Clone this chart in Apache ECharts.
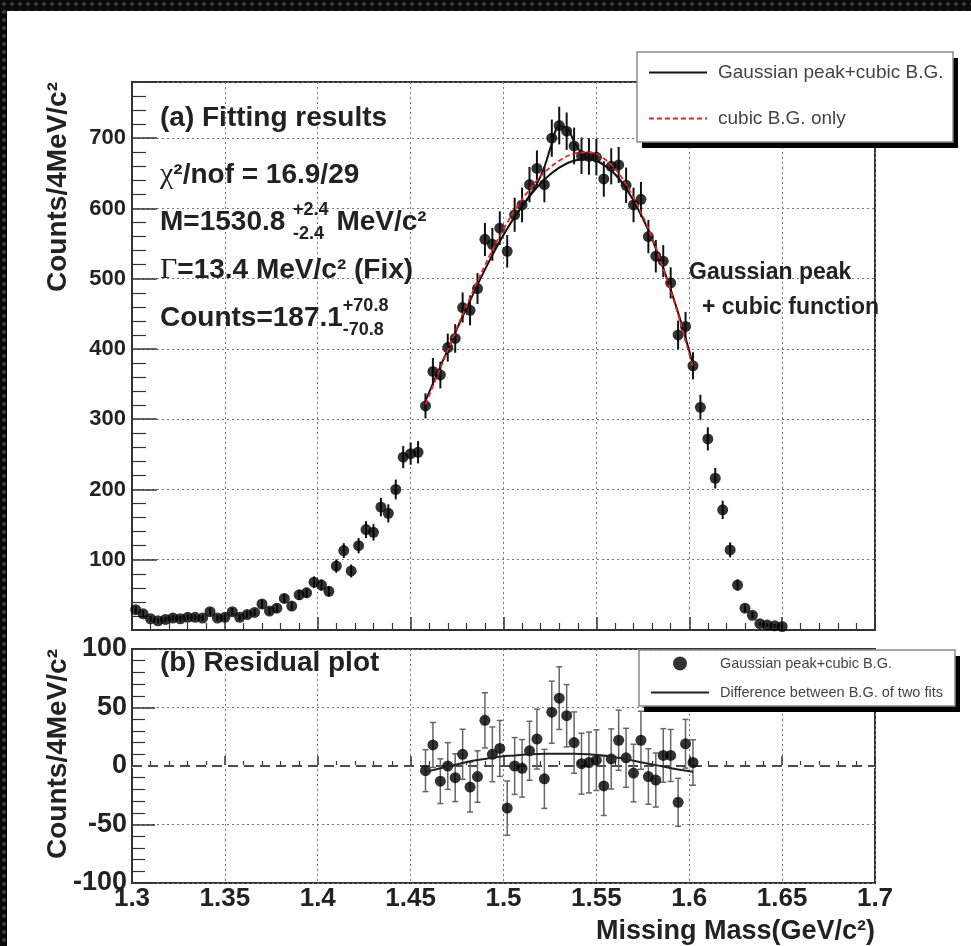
<!DOCTYPE html>
<html>
<head>
<meta charset="utf-8">
<script src="https://cdn.jsdelivr.net/npm/echarts@6/dist/echarts.min.js"></script>
<style>
  html, body { margin: 0; padding: 0; width: 971px; height: 946px; overflow: hidden; }
  body {
    background-color: #0b0b0b;
    background-image: radial-gradient(circle, #3c3c3c 0 1.6px, transparent 2.2px);
    background-size: 8px 8px;
  }
  #paper { position: absolute; left: 7px; top: 11px; right: 0; bottom: 0; background: #fff; }
  #chart { position: absolute; left: 0; top: 0; width: 971px; height: 946px; }
</style>
</head>
<body>
<div id="paper"></div>
<div id="chart"></div>
<script>
// histogram, 4 MeV bins starting at 1.302 GeV
const binStart = 1.302
const binWidth = 0.004
const counts = [
  29, 23, 16, 13, 15, 17, 16, 18, 18, 17,
  26, 17, 18, 26, 18, 22, 25, 37, 27, 31,
  45, 34, 50, 53, 68, 64, 55, 91, 113, 84,
  120, 143, 139, 175, 166, 200, 246, 251, 253, 319,
  368, 363, 402, 415, 459, 455, 486, 556, 549, 572,
  539, 591, 605, 634, 657, 634, 700, 718, 710, 689,
  675, 674, 673, 642, 660, 662, 633, 605, 613, 560,
  532, 525, 494, 420, 432, 376, 317, 272, 216, 171,
  114, 64, 31, 21, 9, 7, 6, 5
]
const countErr = [
  5.4, 4.8, 4, 3.6, 3.9, 4.1, 4, 4.2, 4.2, 4.1,
  5.1, 4.1, 4.2, 5.1, 4.2, 4.7, 5, 6.1, 5.2, 5.6,
  6.7, 5.8, 7.1, 7.3, 8.2, 8, 7.4, 9.5, 10.6, 9.2,
  11, 12, 11.8, 13.2, 12.9, 14.1, 15.7, 15.8, 15.9, 17.9,
  19.2, 19.1, 20, 20.4, 21.4, 21.3, 22, 23.6, 23.4, 23.9,
  23.2, 24.3, 24.6, 25.2, 25.6, 25.2, 26.5, 26.8, 26.6, 26.2,
  26, 26, 25.9, 25.3, 25.7, 25.7, 25.2, 24.6, 24.8, 23.7,
  23.1, 22.9, 22.2, 20.5, 20.8, 19.4, 17.8, 16.5, 14.7, 13.1,
  10.7, 8, 5.6, 4.6, 3, 2.6, 2.4, 2.2
]
// fit range: bins 39..75
const fitFirstBin = 39
const residuals = [
  -4, 18, -13, 0, -10, 10, -18, -9, 39, 10,
  15, -36, 0, -2, 13, 23, -11, 46, 58, 43,
  20, 2, 3, 5, -17, 6, 22, 7, -6, 22,
  -9, -12, 9, 9, -31, 19, 3
]
// fitted curves
const fitMass = [1.458, 1.466, 1.474, 1.482, 1.490, 1.498, 1.506, 1.514, 1.522, 1.530,
  1.538, 1.546, 1.554, 1.562, 1.570, 1.578, 1.586, 1.594, 1.602]
const bgOfFullFit = [326, 375, 423, 469, 513, 553, 588, 617, 641, 658,
  668, 670, 662, 643, 611, 569, 515, 452, 378]
const bgOnlyFit = [321, 373, 424, 473, 519, 561, 597, 627, 651, 668,
  678, 680, 671, 650, 615, 571, 514, 449, 373]
const bgDiff = [-5, -2, 1, 4, 6, 8, 9, 10, 10.5, 10.5,
  10.5, 10, 9, 7, 4.5, 2, -0.5, -3, -5]
const peakMass = [1.506, 1.510, 1.514, 1.518, 1.522, 1.526, 1.530, 1.534, 1.538, 1.542, 1.546, 1.550, 1.554]
const peakFit = [588, 603, 618, 635, 659, 692, 717, 715, 695, 679, 672, 668, 662]

const mass = counts.map((c, i) => +(binStart + i * binWidth).toFixed(3))
const resMass = mass.slice(fitFirstBin, fitFirstBin + residuals.length)

const SANS = '"Liberation Sans", Arial, sans-serif'
const SERIF = '"Liberation Serif", serif'

function errorBars(color, width, cap) {
  return function (params, api) {
    const lo = api.coord([api.value(0), api.value(1)])
    const hi = api.coord([api.value(0), api.value(2)])
    const style = { stroke: color, lineWidth: width }
    const children = [{ type: "line", shape: { x1: lo[0], y1: lo[1], x2: hi[0], y2: hi[1] }, style: style }]
    if (cap) {
      children.push({ type: "line", shape: { x1: lo[0] - cap, y1: lo[1], x2: lo[0] + cap, y2: lo[1] }, style: style })
      children.push({ type: "line", shape: { x1: hi[0] - cap, y1: hi[1], x2: hi[0] + cap, y2: hi[1] }, style: style })
    }
    return { type: "group", children: children }
  }
}

// text lines with stacked super/subscripts
const ctx = document.createElement("canvas").getContext("2d")
function textW(str, font) {
  ctx.font = font
  return ctx.measureText(str).width
}
function textLine(x, y, parts) {
  const els = []
  let cx = x
  parts.forEach(p => {
    const font = (p.weight || "bold") + " " + (p.size || 28) + "px " + (p.family || SANS)
    if (p.sup !== undefined) {
      els.push({ type: "text", z: 6, x: cx, y: y - 12, style: { text: p.sup, font: font, fill: "#222", verticalAlign: "middle" } })
      els.push({ type: "text", z: 6, x: cx, y: y + 12, style: { text: p.sub, font: font, fill: "#222", verticalAlign: "middle" } })
      cx += Math.max(textW(p.sup, font), textW(p.sub, font))
    } else {
      els.push({ type: "text", z: 6, x: cx, y: y, style: { text: p.t, font: font, fill: "#222", verticalAlign: "middle" } })
      cx += textW(p.t, font)
    }
  })
  return els
}

// legend frame with hard black drop shadow (ROOT style)
function legendBox(x, y, w, h) {
  return [
    { type: "rect", z: 6, shape: { x: x + 5, y: y + 6, width: w, height: h }, style: { fill: "#000" } },
    { type: "rect", z: 6, shape: { x: x, y: y, width: w, height: h }, style: { fill: "#fff", stroke: "#8a8a8a", lineWidth: 1.5 } }
  ]
}

const graphics = [].concat(
  legendBox(637, 52, 316, 90),
  legendBox(639, 650, 316, 56),
  textLine(160, 118, [{ t: "(a) Fitting results" }]),
  textLine(160, 175, [{ t: "χ", family: SERIF, weight: "normal", size: 30 }, { t: "²/nof = 16.9/29" }]),
  textLine(160, 222, [{ t: "M=1530.8 " }, { sup: "+2.4", sub: "-2.4", size: 18 }, { t: " MeV/c²" }]),
  textLine(160, 270, [{ t: "Γ", family: SERIF, weight: "normal", size: 30 }, { t: "=13.4 MeV/c² (Fix)" }]),
  textLine(160, 318, [{ t: "Counts=187.1" }, { sup: "+70.8", sub: "-70.8", size: 18 }]),
  textLine(689, 273, [{ t: "Gaussian peak", size: 23 }]),
  textLine(702, 308, [{ t: "+ cubic function", size: 23 }]),
  textLine(160, 663, [{ t: "(b) Residual plot" }]),
  [
    { type: "text", z: 6, x: 58, y: 82, rotation: Math.PI / 2,
      style: { text: "Counts/4MeV/c²", font: "bold 28px " + SANS, fill: "#222", align: "right", verticalAlign: "middle" } },
    { type: "text", z: 6, x: 58, y: 649, rotation: Math.PI / 2,
      style: { text: "Counts/4MeV/c²", font: "bold 28px " + SANS, fill: "#222", align: "right", verticalAlign: "middle" } },
    { type: "text", z: 6, x: 875, y: 932,
      style: { text: "Missing Mass(GeV/c²)", font: "bold 27px " + SANS, fill: "#222", align: "right", verticalAlign: "middle" } }
  ]
)

const gridLine = { show: true, lineStyle: { color: "#777", type: [2, 3], width: 1 } }
const axisLine = { show: true, lineStyle: { color: "#333", width: 2 } }

let option = {
  animation: false,
  backgroundColor: "transparent",
  textStyle: { fontFamily: SANS },
  grid: [
    { left: 132, top: 82, width: 743, height: 548, show: true, borderColor: "#333", borderWidth: 2,
      backgroundColor: "transparent", outerBoundsMode: "none" },
    { left: 132, top: 649, width: 743, height: 234, show: true, borderColor: "#333", borderWidth: 2,
      backgroundColor: "transparent", outerBoundsMode: "none" }
  ],
  xAxis: [
    {
      type: "value", gridIndex: 0, min: 1.3, max: 1.7, interval: 0.05,
      axisLine: axisLine,
      axisTick: { inside: true, length: 13, lineStyle: { color: "#333", width: 1.5 } },
      minorTick: { show: true, splitNumber: 5, length: 7, lineStyle: { color: "#333", width: 1.2 } },
      axisLabel: { show: false },
      splitLine: gridLine
    },
    {
      type: "value", gridIndex: 1, min: 1.3, max: 1.7, interval: 0.05,
      axisLine: axisLine,
      axisTick: { inside: true, length: 10, lineStyle: { color: "#333", width: 1.5 } },
      minorTick: { show: true, splitNumber: 5, length: 5, lineStyle: { color: "#333", width: 1.2 } },
      axisLabel: { show: true, margin: 3, fontSize: 26, fontWeight: "bold", color: "#222", fontFamily: SANS },
      splitLine: gridLine
    }
  ],
  yAxis: [
    {
      type: "value", gridIndex: 0, min: 0, max: 780, interval: 100,
      axisLine: axisLine,
      axisTick: { inside: true, length: 25, lineStyle: { color: "#333", width: 1.5 } },
      minorTick: { show: true, splitNumber: 5, length: 14, lineStyle: { color: "#333", width: 1.2 } },
      axisLabel: { show: true, margin: 6, fontSize: 22, fontWeight: "bold", color: "#222", fontFamily: SANS,
        showMinLabel: false, showMaxLabel: false },
      splitLine: gridLine
    },
    {
      type: "value", gridIndex: 1, min: -100, max: 100, interval: 50,
      axisLine: axisLine,
      axisTick: { inside: true, length: 23, lineStyle: { color: "#333", width: 1.5 } },
      minorTick: { show: true, splitNumber: 5, length: 13, lineStyle: { color: "#333", width: 1.2 } },
      axisLabel: { show: true, margin: 5, fontSize: 27, fontWeight: "bold", color: "#222", fontFamily: SANS },
      splitLine: gridLine
    }
  ],
  legend: [
    {
      left: 637, top: 52, orient: "vertical", selectedMode: false, z: 8,
      backgroundColor: "transparent", borderWidth: 0,
      padding: [11, 8, 12, 11], itemWidth: 58, itemHeight: 20, itemGap: 27,
      textStyle: { fontFamily: SANS, fontSize: 19, color: "#444", padding: [0, 0, 0, 6] },
      data: [
        { name: "Gaussian peak+cubic B.G.", itemStyle: { opacity: 0 } },
        { name: "cubic B.G. only", itemStyle: { opacity: 0 } }
      ]
    },
    {
      left: 639, top: 650, orient: "vertical", selectedMode: false, z: 8,
      backgroundColor: "transparent", borderWidth: 0,
      padding: [6, 8, 6, 11], itemWidth: 58, itemHeight: 14, itemGap: 14,
      textStyle: { fontFamily: SANS, fontSize: 14.5, color: "#444", padding: [0, 0, 0, 6] },
      data: [
        { name: "Gaussian peak+cubic B.G. " },
        { name: "Difference between B.G. of two fits", itemStyle: { opacity: 0 } }
      ]
    }
  ],
  graphic: graphics,
  series: [
    {
      name: "counts err", type: "custom", xAxisIndex: 0, yAxisIndex: 0, z: 2, clip: true,
      renderItem: errorBars("#111", 2, 0),
      encode: { x: 0, y: [1, 2] },
      data: mass.map((m, i) => [m, counts[i] - countErr[i], counts[i] + countErr[i]])
    },
    {
      name: "counts", type: "scatter", xAxisIndex: 0, yAxisIndex: 0, z: 3,
      symbol: "circle", symbolSize: 11, itemStyle: { color: "#000" },
      data: mass.map((m, i) => [m, counts[i]])
    },
    {
      name: "Gaussian peak+cubic B.G.", type: "line", xAxisIndex: 0, yAxisIndex: 0, z: 4,
      smooth: 0.4, symbol: "none", lineStyle: { color: "#111", width: 2 }, itemStyle: { color: "#111" },
      data: fitMass.map((m, i) => [m, bgOfFullFit[i]])
    },
    {
      name: "Gaussian peak+cubic B.G.", type: "line", xAxisIndex: 0, yAxisIndex: 0, z: 4,
      smooth: 0.4, symbol: "none", lineStyle: { color: "#111", width: 2 }, itemStyle: { color: "#111" },
      data: peakMass.map((m, i) => [m, peakFit[i]])
    },
    {
      name: "cubic B.G. only", type: "line", xAxisIndex: 0, yAxisIndex: 0, z: 5,
      smooth: 0.4, symbol: "none", lineStyle: { color: "#e8231f", width: 1.8, type: [5, 3] },
      itemStyle: { color: "#e8231f" },
      data: fitMass.map((m, i) => [m, bgOnlyFit[i]])
    },
    {
      name: "residual err", type: "custom", xAxisIndex: 1, yAxisIndex: 1, z: 2, clip: true,
      renderItem: errorBars("#666", 1.5, 3),
      encode: { x: 0, y: [1, 2] },
      data: residuals.map((r, i) => [resMass[i], r - countErr[fitFirstBin + i], r + countErr[fitFirstBin + i]])
    },
    {
      name: "Gaussian peak+cubic B.G. ", type: "scatter", xAxisIndex: 1, yAxisIndex: 1, z: 3,
      symbol: "circle", symbolSize: 11, itemStyle: { color: "#000" },
      data: residuals.map((r, i) => [resMass[i], r]),
      markLine: {
        silent: true, symbol: "none", label: { show: false }, z: 1,
        data: [
          { yAxis: 0, lineStyle: { color: "#fff", type: "solid", width: 3 } },
          { yAxis: 0, lineStyle: { color: "#111", type: [10, 6], width: 1.5 } }
        ]
      }
    },
    {
      name: "Difference between B.G. of two fits", type: "line", xAxisIndex: 1, yAxisIndex: 1, z: 4,
      smooth: 0.4, symbol: "none", lineStyle: { color: "#222", width: 2 }, itemStyle: { color: "#222" },
      data: fitMass.map((m, i) => [m, bgDiff[i]])
    }
  ]
}

let chartEl = echarts.init(document.getElementById("chart"))
chartEl.setOption(option)
</script>
</body>
</html>
